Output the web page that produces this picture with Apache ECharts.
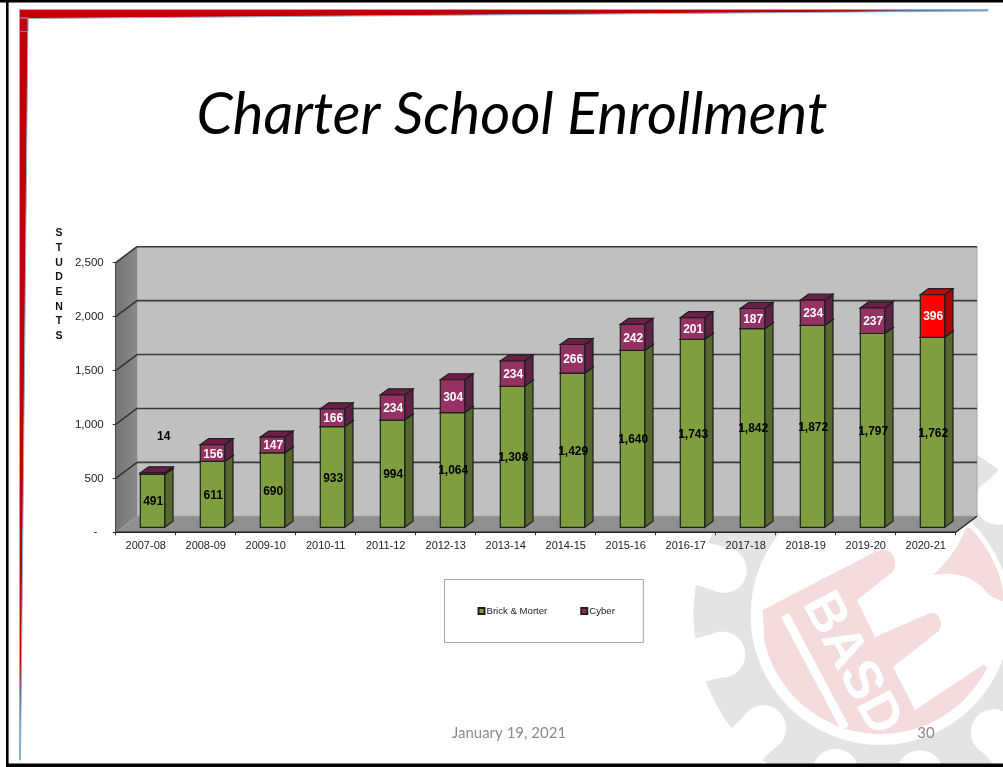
<!DOCTYPE html>
<html><head><meta charset="utf-8">
<style>html,body{margin:0;padding:0;background:#fff}#c{width:1003px;height:767px}</style>
<script src="https://cdn.jsdelivr.net/npm/echarts@6/dist/echarts.min.js"></script>
</head><body><div id="c"></div>
<script>
const categories = ['2007-08','2008-09','2009-10','2010-11','2011-12','2012-13','2013-14','2014-15','2015-16','2016-17','2017-18','2018-19','2019-20','2020-21'];
const brickMorter = [491,611,690,933,994,1064,1308,1429,1640,1743,1842,1872,1797,1762];
const cyber = [14,156,147,166,234,304,234,266,242,201,187,234,237,396];
const yTicks = [0,500,1000,1500,2000,2500];

const wallDx = 21.3, wallDy = -16;
const barW = 24.4, barDx = 8.3, barDy = -6, barOffX = 6.8, barOffY = -5;
const edge = '#1f1f1f';
const font = '"Liberation Sans", Arial, sans-serif';
const COLORS = {
  green:{front:'#7f9f3f',side:'#556a2b',top:'#556a2b'},
  cyber:{front:'#953163',side:'#5f2246',top:'#6b1f48'},
  red:{front:'#ff0000',side:'#b00000',top:'#cc0000'}
};
const poly = (pts, fill, stroke, lw) => ({type:'polygon',shape:{points:pts},style:{fill,stroke:stroke||null,lineWidth:lw||0}});
const line = (a,b,stroke,lw) => ({type:'line',shape:{x1:a[0],y1:a[1],x2:b[0],y2:b[1]},style:{stroke,lineWidth:lw}});

function renderWalls(params, api){
  const n = categories.length;
  const bl = api.coord([0,0]), tl = api.coord([0,2500]);
  const band = api.size([1,0])[0];
  const x0 = bl[0]-band/2, x1 = x0+band*n, yb = bl[1], yt = tl[1];
  return {type:'group',children:[
    poly([[x0+wallDx,yb+wallDy],[x1+wallDx,yb+wallDy],[x1+wallDx,yt+wallDy],[x0+wallDx,yt+wallDy]],'#c0c0c0','#a6a6a6',1),
    {type:'polygon',shape:{points:[[x0,yb],[x0+wallDx,yb+wallDy],[x0+wallDx,yt+wallDy],[x0,yt]]},
     style:{fill:new echarts.graphic.LinearGradient(0,0,1,0,[{offset:0,color:'#747474'},{offset:1,color:'#8a8a8a'}])}},
    poly([[x0,yb],[x1,yb],[x1+wallDx,yb+wallDy],[x0+wallDx,yb+wallDy]],'#8f8f8f'),
    line([x1,yb],[x1+wallDx,yb+wallDy],'#222',1.4),
    line([x0,yb],[x1,yb],'#222',1.4)
  ]};
}
function renderGrid(params, api){
  const v = api.value(0);
  const band = api.size([1,0])[0];
  const p = api.coord([0,v]);
  const x0 = p[0]-band/2, x1 = x0+band*categories.length, y = p[1];
  if(v===0) return {type:'group',children:[]};
  return {type:'group',children:[
    line([x0,y],[x0+wallDx,y+wallDy],'#333',1.5),
    line([x0+wallDx,y+wallDy],[x1+wallDx,y+wallDy],'#3a3a3a',1.6)
  ]};
}
function makeBar(kind){
  return function(params, api){
    const i = api.value(0);
    const a = api.coord([i,api.value(1)]), b = api.coord([i,api.value(2)]);
    const xl = a[0]+barOffX-barW/2, xr = xl+barW, yb = a[1]+barOffY, yt = b[1]+barOffY;
    const pal = kind==='green'?COLORS.green:(i===categories.length-1?COLORS.red:COLORS.cyber);
    const ch = [
      poly([[xr,yb],[xr+barDx,yb+barDy],[xr+barDx,yt+barDy],[xr,yt]],pal.side,edge,1.2),
      poly([[xl,yt],[xr,yt],[xr+barDx,yt+barDy],[xl+barDx,yt+barDy]],pal.top,edge,1.2),
      poly([[xl,yb],[xr,yb],[xr,yt],[xl,yt]],pal.front,edge,1.2)
    ];
    let tx = (xl+xr)/2+0.7, ty = (yb+yt)/2+1.2, fill = kind==='green'?'#000':'#fff';
    const val = api.value(2)-api.value(1);
    if(kind==='cyber' && i===0){
      const q = api.coord([i,846]);
      tx = q[0]+18; ty = q[1]+barOffY+1; fill = '#000';
    }
    ch.push({type:'text',z2:10,style:{text:val.toLocaleString('en-US'),x:tx,y:ty,fill,font:'bold 12px '+font,align:'center',verticalAlign:'middle'}});
    return {type:'group',children:ch};
  };
}

/* decorative slide background (gear / logo watermark and frame) */
const LC = [880.5,615];
const gear = '#e5e4e2', pink = '#f4dcdc';
const notchAngles = [196,166,136,106,76,46,16,-14,-44];
function qb(p0,c,p1){const o=[];for(let t=0.1;t<=1.001;t+=0.1){o.push([(1-t)*(1-t)*p0[0]+2*t*(1-t)*c[0]+t*t*p1[0],(1-t)*(1-t)*p0[1]+2*t*(1-t)*c[1]+t*t*p1[1]]);}return o;}
function arcPts(r,a0,a1){const o=[];const s=(a1-a0)/40;for(let k=0;k<=40;k++){const d=(a0+s*k)*Math.PI/180;o.push([LC[0]+r*Math.cos(d),LC[1]+r*Math.sin(d)]);}return o;}
const handPts = [[762.7,610],[876.7,551]].concat(
  qb([876.7,551],[892,546],[895,562]), qb([895,562],[896,570],[890,574]),
  [[857,600],[875,637],[930,613]],
  qb([930,613],[940,612],[941,624]), qb([941,624],[941,630],[935,634]),
  [[893,667],[915,710],[983,665]],
  arcPts(119,26,168)
);
const hornPts = [[933,575]].concat(qb([933,575],[955,555],[966,528]), arcPts(125,-44,-6), qb([993,602],[975,568],[933,575]));
const deco = [];
deco.push({type:'circle',z:-20,silent:true,shape:{cx:LC[0],cy:LC[1],r:187},style:{fill:gear}});
notchAngles.forEach(d=>{
  const c=Math.cos(d*Math.PI/180), s=Math.sin(d*Math.PI/180);
  deco.push({type:'circle',z:-19,silent:true,shape:{cx:LC[0]+163*c,cy:LC[1]+163*s,r:23},style:{fill:'#fff'}});
  deco.push({type:'line',z:-19,silent:true,shape:{x1:LC[0]+165*c,y1:LC[1]+165*s,x2:LC[0]+205*c,y2:LC[1]+205*s},style:{stroke:'#fff',lineWidth:44}});
});
deco.push({type:'circle',z:-18,silent:true,shape:{cx:LC[0],cy:LC[1],r:130},style:{fill:'#fff'}});
deco.push({type:'polygon',z:-17,silent:true,shape:{points:handPts},style:{fill:pink}});
deco.push({type:'polygon',z:-17,silent:true,shape:{points:hornPts},style:{fill:pink}});
deco.push({type:'line',z:-16,silent:true,shape:{x1:785,y1:615,x2:845,y2:728},style:{stroke:'#fff',lineWidth:9}});
deco.push({type:'text',z:-16,silent:true,x:851,y:664,rotation:-62*Math.PI/180,style:{text:'BASD',fill:'#fff',font:'bold 54px '+font,align:'center',verticalAlign:'middle'}});
/* frame */
const bannerFill = new echarts.graphic.LinearGradient(0,0,1,0,[{offset:0,color:'#c00000'},{offset:0.86,color:'#c00000'},{offset:0.93,color:'#4f81a8'},{offset:1,color:'#6f9cc0'}]);
const railFill = new echarts.graphic.LinearGradient(0,0,0,1,[{offset:0,color:'#c00000'},{offset:0.86,color:'#c00000'},{offset:0.95,color:'#4f81a8'},{offset:1,color:'#6f9cc0'}]);
deco.push({type:'polygon',z:-5,silent:true,shape:{points:[[19.5,9.5],[988,9.5],[988,11],[28,18.5],[28,30],[19.5,30]]},style:{fill:bannerFill,stroke:'#8fb0d0',lineWidth:1}});
deco.push({type:'polygon',z:-5,silent:true,shape:{points:[[19.5,18],[28,18],[20.5,760],[19.5,760]]},style:{fill:railFill,stroke:'#8fb0d0',lineWidth:1}});
deco.push({type:'line',z:-4,silent:true,shape:{x1:19.5,y1:31.5,x2:27,y2:31.5},style:{stroke:'#5a84aa',lineWidth:1}});
deco.push({type:'rect',z:-3,silent:true,shape:{x:0,y:0,width:1003,height:2.5},style:{fill:'#000'}});
deco.push({type:'rect',z:-3,silent:true,shape:{x:6,y:0,width:2.6,height:767},style:{fill:'#000'}});
deco.push({type:'rect',z:-3,silent:true,shape:{x:6,y:763.5,width:997,height:3.5},style:{fill:'#000'}});

const chart = echarts.init(document.getElementById('c'),null,{renderer:'canvas'});
chart.setOption({
  animation:false,
  backgroundColor:'#fff',
  title:[
    {text:'Charter School Enrollment',left:512,top:80,textAlign:'center',padding:0,
     textStyle:{fontFamily:'Lato',fontStyle:'italic',fontWeight:'normal',fontSize:58,color:'#000',lineHeight:70}},
    {text:'S\nT\nU\nD\nE\nN\nT\nS',left:59,top:226,textAlign:'center',padding:0,
     textStyle:{fontFamily:font,fontWeight:'bold',fontSize:10.5,color:'#111',lineHeight:14.7}},
    {text:'January 19, 2021',left:509,top:724,textAlign:'center',padding:0,
     textStyle:{fontFamily:'Lato',fontWeight:'normal',fontSize:15,color:'#8a8a8a',lineHeight:18}},
    {text:'30',left:926,top:724,textAlign:'center',padding:0,
     textStyle:{fontFamily:'Lato',fontWeight:'normal',fontSize:15,color:'#8a8a8a',lineHeight:18}}
  ],
  grid:{left:115.7,right:1003-955.7,top:262.7,bottom:767-532.3,containLabel:false},
  legend:{
    data:['Brick & Morter','Cyber'],left:444.5,top:579.5,orient:'horizontal',
    padding:[26.5,28.5,26.5,33],itemWidth:6,itemHeight:6,itemGap:33,icon:'rect',
    backgroundColor:'#fff',borderColor:'#a8a8a8',borderWidth:1,
    textStyle:{fontFamily:font,fontSize:9.6,color:'#222',padding:[0,0,0,-3]}
  },
  xAxis:{type:'category',data:categories,
    axisLine:{show:true,lineStyle:{color:'#222',width:1}},
    axisTick:{show:true,alignWithLabel:false,length:3,lineStyle:{color:'#333'}},
    axisLabel:{fontFamily:font,fontSize:11,color:'#222',margin:8,interval:0},
    splitLine:{show:false}},
  yAxis:{type:'value',min:0,max:2500,interval:500,
    axisLine:{show:true,lineStyle:{color:'#333',width:1}},
    axisTick:{show:true,length:3,lineStyle:{color:'#333'}},
    axisLabel:{fontFamily:font,fontSize:11.5,color:'#222',margin:12,
      formatter:v=>v===0?'-  ':v.toLocaleString('en-US')},
    splitLine:{show:false}},
  graphic:{elements:deco},
  series:[
    {type:'custom',name:'wall',z:1,silent:true,renderItem:renderWalls,data:[[0]],encode:{x:-1,y:-1},tooltip:{show:false}},
    {type:'custom',name:'grid',z:1.5,silent:true,renderItem:renderGrid,data:yTicks.map(v=>[v]),encode:{x:-1,y:0}},
    {type:'custom',name:'Brick & Morter',z:3,renderItem:makeBar('green'),
     itemStyle:{color:COLORS.green.front,borderColor:edge,borderWidth:1},
     data:categories.map((c,i)=>[i,0,brickMorter[i]]),encode:{x:0,y:[1,2]}},
    {type:'custom',name:'Cyber',z:4,renderItem:makeBar('cyber'),
     itemStyle:{color:COLORS.cyber.front,borderColor:edge,borderWidth:1},
     data:categories.map((c,i)=>[i,brickMorter[i],brickMorter[i]+cyber[i]]),encode:{x:0,y:[1,2]}}
  ]
});
</script></body></html>
